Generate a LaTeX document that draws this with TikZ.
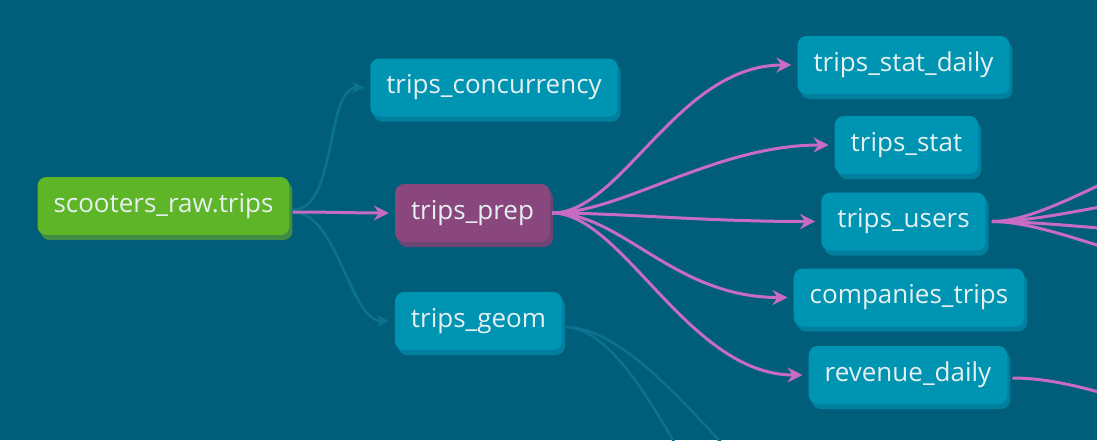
\documentclass[tikz,border=0pt]{standalone}
\usepackage{fontspec}
\setmainfont{Open Sans}
\usetikzlibrary{
	arrows.meta,
	shadows
}
\definecolor{canvas}{HTML}{005E7A}
\definecolor{modelfill}{HTML}{0094B3}
\definecolor{modelshade}{HTML}{007F9E}
\definecolor{sourcefill}{HTML}{5DB527}
\definecolor{sourceshade}{HTML}{3F8D45}
\definecolor{prepfill}{HTML}{8A477D}
\definecolor{prepshade}{HTML}{6B4573}
\definecolor{lineage}{HTML}{C86CC3}
\definecolor{faintline}{HTML}{0B7290}
\definecolor{labeltext}{HTML}{E6F0F0}
\tikzset{
	dag node/.style={
		rounded corners=9pt,
		minimum height=58pt,
		inner xsep=16pt,
		text=labeltext,
		font=\fontsize{26}{31}\selectfont
	},
	model node/.style={
		dag node,
		fill=modelfill,
		general shadow={fill=modelshade, shadow xshift=3pt, shadow yshift=-5pt}
	},
	source node/.style={
		dag node,
		fill=sourcefill,
		general shadow={fill=sourceshade, shadow xshift=3pt, shadow yshift=-5pt}
	},
	prep node/.style={
		dag node,
		fill=prepfill,
		general shadow={fill=prepshade, shadow xshift=3pt, shadow yshift=-5pt}
	},
	lineage edge/.style={
		draw=lineage,
		line width=3pt,
		-{Stealth[length=15pt,width=15pt,inset=5pt]},
		shorten >=6pt
	},
	faint edge/.style={
		draw=faintline,
		line width=2.5pt,
		-{Stealth[length=12pt,width=12pt,inset=4pt]},
		shorten >=6pt
	},
	loose edge/.style={
		draw=faintline,
		line width=2.5pt
	},
	out edge/.style={
		draw=lineage,
		line width=3pt
	}
}

\begin{document}
\begin{tikzpicture}[x=1pt,y=-1pt] %%%%% LINEAGE
	\fill[canvas] (0,0) rectangle (1097,440);
	\useasboundingbox (0,0) rectangle (1097,440);
	\clip (0,0) rectangle (1097,440);

	\node[source node] (raw) at (163.5,206) {scooters\_raw.trips};
	\node[model node] (conc) at (494,87.5) {trips\_concurrency};
	\node[prep node] (prep) at (472.5,213) {trips\_prep};
	\node[model node] (geom) at (478.5,321) {trips\_geom};

	\node[model node] (statdaily) at (903.5,65) {trips\_stat\_daily};
	\node[model node] (stat) at (906.5,145) {trips\_stat};
	\node[model node] (users) at (903.5,221.5) {trips\_users};
	\node[model node] (comp) at (909,297.5) {companies\_trips};
	\node[model node] (rev) at (908,375) {revenue\_daily};

	% off-canvas ends
	\coordinate (geomA) at (820,620);
	\coordinate (geomB) at (880,560);
	\coordinate (usersA) at (1200,152);
	\coordinate (usersB) at (1200,194);
	\coordinate (usersC) at (1200,234);
	\coordinate (usersD) at (1200,268);
	\coordinate (revOut) at (1250,425);

	\draw[faint edge] ([xshift=3pt,yshift=-4pt]raw.east) .. controls +(45,0) and +(-45,0) .. (conc.west);
	\draw[faint edge] ([xshift=3pt,yshift=-6pt]raw.east) .. controls +(45,0) and +(-45,0) .. (geom.west);
	\draw[lineage edge] ([xshift=3pt,yshift=-6pt]raw.east) .. controls +(40,0) and +(-40,0) .. (prep.west);

	\foreach \target in {statdaily,stat,users,comp,rev}
		\draw[lineage edge] ([xshift=2pt]prep.east) .. controls +(70,0) and +(-120,0) .. (\target.west);

	\draw[loose edge] ([xshift=2pt,yshift=-6pt]geom.east) .. controls +(90,0) and +(-90,0) .. (geomA);
	\draw[loose edge] ([xshift=2pt,yshift=-6pt]geom.east) .. controls +(100,0) and +(-100,0) .. (geomB);

	\foreach \target in {usersA,usersB,usersC,usersD}
		\draw[out edge] ([xshift=6pt]users.east) .. controls +(60,0) and +(-60,0) .. (\target);
	\draw[out edge] ([xshift=5pt,yshift=-3pt]rev.east) .. controls +(80,0) and +(-80,0) .. (revOut);
\end{tikzpicture}
\end{document}
